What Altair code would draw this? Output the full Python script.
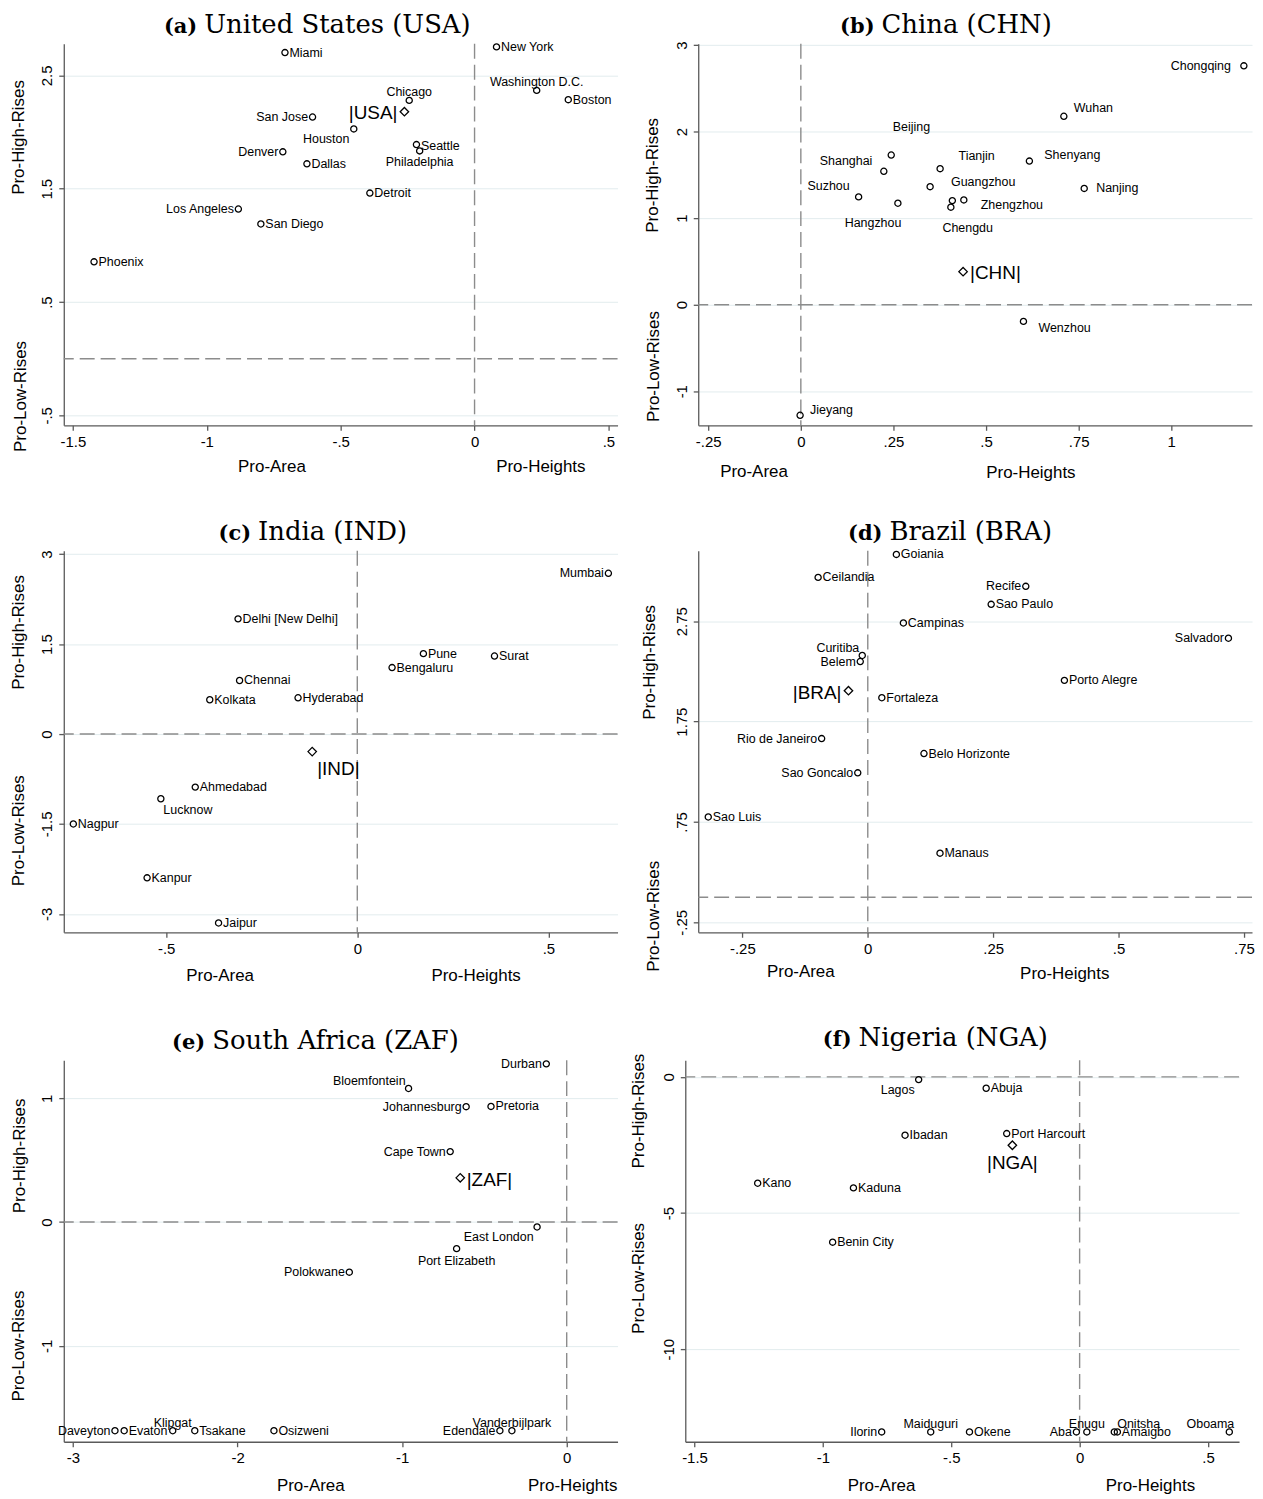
import altair as alt
import pandas as pd

SANS = "Liberation Sans"
SERIF = "DejaVu Serif"

# ---------------- data ----------------
# (a) United States
usa_city = ["Miami", "New York", "Washington D.C.", "Boston", "Chicago", "San Jose", "Houston",
            "Seattle", "Philadelphia", "Denver", "Dallas", "Detroit", "Los Angeles", "San Diego", "Phoenix"]
usa_x = [-0.708, 0.082, 0.232, 0.350, -0.244, -0.605, -0.451, -0.217, -0.205, -0.716, -0.626, -0.391, -0.882, -0.798, -1.421]
usa_y = [2.702, 2.752, 2.368, 2.286, 2.280, 2.133, 2.028, 1.890, 1.834, 1.826, 1.720, 1.462, 1.321, 1.189, 0.855]
usa_nat = [-0.262, 2.180]

# (b) China
chn_city = ["Chongqing", "Wuhan", "Beijing", "Shanghai", "Tianjin", "Shenyang", "Guangzhou", "Suzhou",
            "Hangzhou", "", "Chengdu", "Zhengzhou", "Nanjing", "Wenzhou", "Jieyang"]
chn_x = [1.196, 0.710, 0.244, 0.224, 0.376, 0.617, 0.349, 0.156, 0.262, 0.409, 0.405, 0.440, 0.765, 0.601, -0.002]
chn_y = [2.761, 2.178, 1.730, 1.542, 1.572, 1.660, 1.364, 1.246, 1.173, 1.203, 1.127, 1.211, 1.344, -0.193, -1.278]
chn_nat = [0.438, 0.382]

# (c) India
ind_city = ["Mumbai", "Delhi [New Delhi]", "Pune", "Surat", "Bengaluru", "Chennai", "Kolkata", "Hyderabad",
            "Ahmedabad", "Lucknow", "Nagpur", "Kanpur", "Jaipur"]
ind_x = [0.657, -0.312, 0.173, 0.359, 0.091, -0.308, -0.386, -0.155, -0.424, -0.514, -0.743, -0.550, -0.363]
ind_y = [2.68, 1.92, 1.34, 1.30, 1.108, 0.892, 0.571, 0.604, -0.886, -1.080, -1.501, -2.399, -3.152]
ind_nat = [-0.118, -0.294]

# (d) Brazil
bra_city = ["Goiania", "Ceilandia", "Recife", "Sao Paulo", "Campinas", "Salvador", "Curitiba", "Belem",
            "Fortaleza", "Porto Alegre", "Rio de Janeiro", "Belo Horizonte", "Sao Goncalo", "Sao Luis", "Manaus"]
bra_x = [0.057, -0.099, 0.315, 0.246, 0.071, 0.719, -0.011, -0.015, 0.028, 0.392, -0.092, 0.112, -0.020, -0.318, 0.144]
bra_y = [3.416, 3.187, 3.098, 2.919, 2.733, 2.581, 2.409, 2.349, 1.988, 2.161, 1.581, 1.432, 1.240, 0.800, 0.439]
bra_nat = [-0.0385, 2.058]

# (e) South Africa
zaf_city = ["Durban", "Bloemfontein", "Johannesburg", "Pretoria", "Cape Town", "East London", "Port Elizabeth",
            "Polokwane", "Daveyton", "Evaton", "Klipgat", "Tsakane", "Osizweni", "Edendale", "Vanderbijlpark"]
zaf_x = [-0.124, -0.961, -0.611, -0.460, -0.708, -0.180, -0.669, -1.321, -2.745, -2.689, -2.394, -2.260, -1.779, -0.406, -0.333]
zaf_y = [1.278, 1.079, 0.932, 0.934, 0.569, -0.040, -0.215, -0.405, -1.686, -1.686, -1.686, -1.686, -1.686, -1.686, -1.686]
zaf_nat = [-0.647, 0.357]

# (f) Nigeria
nga_city = ["Lagos", "Abuja", "Ibadan", "Port Harcourt", "Kano", "Kaduna", "Benin City", "Ilorin", "Maiduguri",
            "Okene", "Aba", "Enugu", "Onitsha", "Amaigbo", "Oboama"]
nga_x = [-0.627, -0.364, -0.680, -0.284, -1.254, -0.881, -0.962, -0.771, -0.580, -0.429, -0.0125, 0.028, 0.135, 0.147, 0.583]
nga_y = [-0.098, -0.416, -2.142, -2.081, -3.905, -4.076, -6.07, -13.04, -13.04, -13.04, -13.04, -13.04, -13.04, -13.04, -13.04]
nga_nat = [-0.262, -2.509]

# ---------------- label placement (style: align, dx, dy in px) ----------------
D = ("left", 4.5, 0)
R = ("right", -4.5, 0)
UP = ("center", 0, -7.5)

usa_lab = {"Washington D.C.": ("center", 0, -8), "Chicago": ("center", 0, -8), "San Jose": R,
           "Houston": ("right", -4.5, 10), "Philadelphia": ("center", 0, 11), "Denver": R, "Los Angeles": R,
           "Seattle": ("left", 4.5, 1)}
chn_lab = {"Chongqing": ("right", -13, 0), "Wuhan": ("left", 10, -8), "Beijing": ("left", 1.5, -28),
           "Shanghai": ("right", -11.5, -10), "Tianjin": ("left", 18.5, -12.5), "Shenyang": ("left", 15, -6),
           "Guangzhou": ("left", 21, -5), "Suzhou": ("right", -9, -10.5), "Hangzhou": ("right", 3.5, 20),
           "Chengdu": ("left", -8.5, 21), "Zhengzhou": ("left", 17, 5), "Nanjing": ("left", 12, 0),
           "Wenzhou": ("left", 15, 6.5), "Jieyang": ("left", 10, -5)}
ind_lab = {"Mumbai": R, "Lucknow": ("left", 2.5, 11)}
bra_lab = {"Recife": R, "Salvador": R, "Curitiba": ("right", -3, -7), "Belem": ("right", -4.5, 1),
           "Rio de Janeiro": R, "Sao Goncalo": R}
zaf_lab = {"Durban": R, "Bloemfontein": ("right", -3, -7), "Johannesburg": R, "Cape Town": R,
           "East London": ("right", -3.5, 10), "Port Elizabeth": ("center", 0, 12), "Polokwane": R,
           "Daveyton": R, "Klipgat": UP, "Edendale": R, "Vanderbijlpark": UP}
nga_lab = {"Lagos": ("right", -4, 10), "Ilorin": R, "Maiduguri": UP, "Aba": R, "Enugu": UP,
           "Onitsha": ("left", 3, -7.5), "Oboama": ("right", 5, -7.5)}

LBL = ("(datum.value < 0 ? '-' : '') + (abs(datum.value) < 1 && datum.value != 0 ? "
       "substring(format(abs(datum.value), '~g'), 1) : format(abs(datum.value), '~g'))")

W, H = 556, 383
DASH = "#8c8c8c"


def panel(city, xs, ys, nat, code, letter, name, xdom, xticks, ydom, yticks, lab, nlab, titles, split,
          tdy=-11):
    xenc = alt.X("x:Q", scale=alt.Scale(domain=xdom, nice=False, zero=False),
                 axis=alt.Axis(values=xticks, labelExpr=LBL, grid=False, title=None, labelAngle=0,
                               labelFlush=False, labelOverlap=False, labelPadding=4))
    yenc = alt.Y("y:Q", scale=alt.Scale(domain=ydom, nice=False, zero=False),
                 axis=alt.Axis(values=yticks, labelExpr=LBL, grid=True, title=None, labelAngle=270,
                               labelAlign="center", labelBaseline="bottom", labelFlush=False,
                               labelOverlap=False, labelPadding=4))
    df = pd.DataFrame({"x": xs, "y": ys, "city": city})
    layers = []
    layers.append(alt.Chart(pd.DataFrame({"x": [0.0]})).mark_rule(
        color=DASH, strokeDash=[15, 6], strokeWidth=1.4).encode(x=xenc))
    layers.append(alt.Chart(pd.DataFrame({"y": [0.0]})).mark_rule(
        color=DASH, strokeDash=[15, 6], strokeWidth=1.4).encode(y=yenc))
    layers.append(alt.Chart(df).mark_point(shape="circle", filled=False, color="black", size=38,
                                           strokeWidth=1.3, opacity=1).encode(x=xenc, y=yenc))
    keys = [lab.get(c, D) for c in city]
    seen = []
    for k in keys:
        if k not in seen:
            seen.append(k)
    for k in seen:
        sub = df[[kk == k for kk in keys]]
        layers.append(alt.Chart(sub).mark_text(align=k[0], dx=k[1], dy=k[2], baseline="middle", font=SANS,
                                               fontSize=12.5, color="black").encode(x=xenc, y=yenc,
                                                                                      text="city:N"))
    ndf = pd.DataFrame({"x": [nat[0]], "y": [nat[1]], "lab": ["|" + code + "|"]})
    layers.append(alt.Chart(ndf).mark_point(shape="diamond", filled=False, color="black", size=72,
                                            strokeWidth=1.3, opacity=1).encode(x=xenc, y=yenc))
    layers.append(alt.Chart(ndf).mark_text(align=nlab[0], dx=nlab[1], dy=nlab[2], baseline="middle",
                                           font=SANS, fontSize=19, color="black").encode(
        x=xenc, y=yenc, text="lab:N"))
    for txt, px, py, ang in titles:
        layers.append(alt.Chart(pd.DataFrame({"t": [txt]})).mark_text(
            font=SANS, fontSize=17, angle=ang, align="center", baseline="middle", color="black").encode(
            x=alt.value(px), y=alt.value(py), text="t:N"))
    layers.append(alt.Chart(pd.DataFrame({"t": ["(" + letter + ")"]})).mark_text(
        font=SERIF, fontSize=21, fontWeight="bold", align="right", baseline="alphabetic", color="black").encode(
        x=alt.value(split - 3), y=alt.value(tdy), text="t:N"))
    layers.append(alt.Chart(pd.DataFrame({"t": [name]})).mark_text(
        font=SERIF, fontSize=26, align="left", baseline="alphabetic", color="black").encode(
        x=alt.value(split + 4), y=alt.value(tdy), text="t:N"))
    return alt.layer(*layers).properties(width=W, height=H)


def ttl(hi, lo, ar, he):
    return [("Pro-High-Rises", hi[0], hi[1], 270), ("Pro-Low-Rises", lo[0], lo[1], 270),
            ("Pro-Area", ar[0], ar[1], 0), ("Pro-Heights", he[0], he[1], 0)]


pa = panel(usa_city, usa_x, usa_y, usa_nat, "USA", "a", "United States (USA)",
           [-1.534, 0.534], [-1.5, -1, -0.5, 0, 0.5], [-0.588, 2.779], [-0.5, 0.5, 1.5, 2.5],
           usa_lab, ("right", -7, 1), ttl((-45, 94), (-43, 354), (209, 425), (479, 425)), 137)
pb = panel(chn_city, chn_x, chn_y, chn_nat, "CHN", "b", "China (CHN)",
           [-0.277, 1.218], [-0.25, 0, 0.25, 0.5, 0.75, 1], [-1.394, 3.015], [-1, 0, 1, 2, 3],
           chn_lab, ("left", 7, 1), ttl((-45, 132), (-44, 324), (56, 430), (334, 431)), 180)
pc = panel(ind_city, ind_x, ind_y, ind_nat, "IND", "c", "India (IND)",
           [-0.768, 0.681], [-0.5, 0, 0.5], [-3.307, 3.055], [-3, -1.5, 0, 1.5, 3],
           ind_lab, ("left", 5, 17), ttl((-45, 82), (-45, 281), (157, 427), (414, 427)), 191)
pd_ = panel(bra_city, bra_x, bra_y, bra_nat, "BRA", "d", "Brazil (BRA)",
            [-0.338, 0.766], [-0.25, 0, 0.25, 0.5, 0.75], [-0.349, 3.452], [-0.25, 0.75, 1.75, 2.75],
            bra_lab, ("right", -7, 2), ttl((-48, 112), (-44, 367), (103, 423), (368, 425)), 188)
pe = panel(zaf_city, zaf_x, zaf_y, zaf_nat, "ZAF", "e", "South Africa (ZAF)",
           [-3.056, 0.309], [-3, -2, -1, 0], [-1.775, 1.307], [-1, 0, 1],
           zaf_lab, ("left", 6.5, 2), ttl((-44, 96), (-45, 287), (248, 427), (511, 427)), 145)
pf = panel(nga_city, nga_x, nga_y, nga_nat, "NGA", "f", "Nigeria (NGA)",
           [-1.536, 0.621], [-1.5, -1, -0.5, 0, 0.5], [-13.40, 0.612], [-10, -5, 0],
           nga_lab, ("center", 0, 18), ttl((-46, 51), (-46, 219), (197, 427), (467, 427)), 170, tdy=-14)

row1 = alt.hconcat(pa, pb, spacing=81, bounds="flush")
row2 = alt.hconcat(pc, pd_, spacing=81, bounds="flush")
row3 = alt.hconcat(pe, pf, spacing=68, bounds="flush")
top = alt.vconcat(row1, row2, spacing=38)
chart = alt.vconcat(top, row3, spacing=41.5).properties(
    padding={"left": 2, "top": 1, "right": 0, "bottom": 0}, background="white"
).configure_view(strokeWidth=0).configure_axis(
    domainColor="#5a5a5a", tickColor="#5a5a5a", domainWidth=1.3, tickWidth=1.3, tickSize=5,
    labelFont=SANS, labelFontSize=15, labelColor="black", gridColor="#e2ecee", gridWidth=1
)

chart.save("out.html", embed_options={"renderer": "svg", "actions": False})
